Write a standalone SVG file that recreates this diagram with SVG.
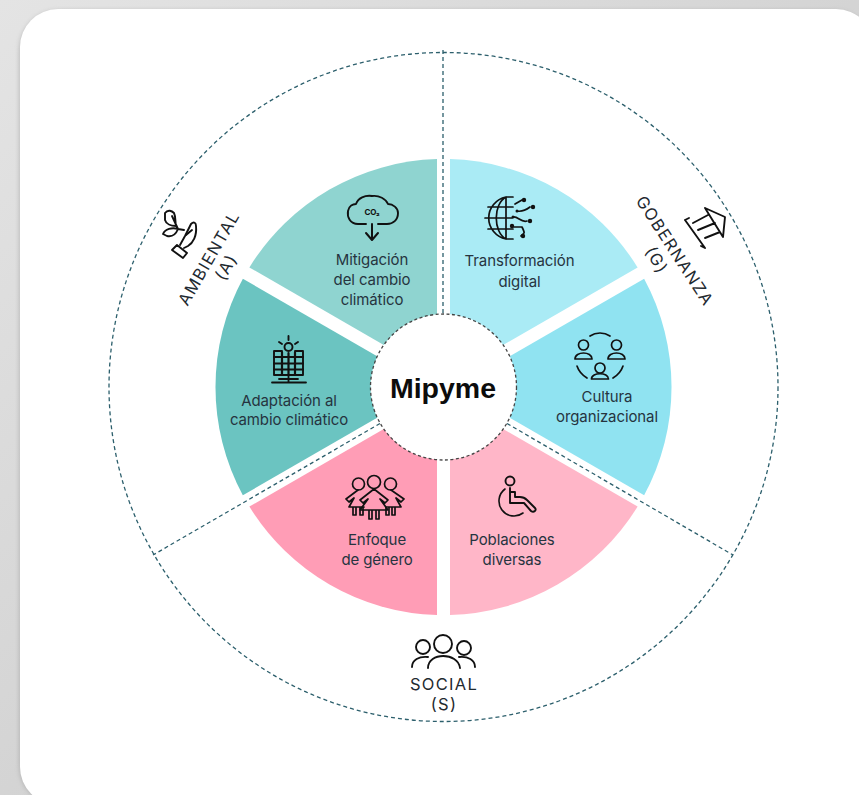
<svg xmlns="http://www.w3.org/2000/svg" width="859" height="795" viewBox="0 0 859 795">
<style>
text{font-family:Inter,"Liberation Sans",Arial,sans-serif;fill:#26343f;font-size:15px;text-anchor:middle;letter-spacing:-.1px}
.lab{font-size:16.5px;letter-spacing:1.3px;fill:#1f2a30}
.ic{fill:none;stroke:#111;stroke-width:1.9;stroke-linecap:round;stroke-linejoin:round}
.ict{fill:none;stroke:#111;stroke-width:1.7;stroke-linecap:round;stroke-linejoin:round}
.dash{fill:none;stroke:#2c5f6c;stroke-width:1.3;stroke-dasharray:4 3}
</style>
<defs>
<linearGradient id="bg" x1="0" y1="0" x2="1" y2="1"><stop offset="0" stop-color="#e4e4e4"/><stop offset="1" stop-color="#c4c4c4"/></linearGradient>
<filter id="sh" x="-5%" y="-5%" width="110%" height="110%"><feGaussianBlur stdDeviation="2"/></filter>
</defs>
<rect width="859" height="795" fill="url(#bg)"/>
<rect x="19" y="10" width="855" height="796" rx="40" fill="#999" opacity=".5" filter="url(#sh)"/>
<rect x="20" y="9" width="854" height="796" rx="38" fill="#fff"/>

<g id="connectors">
<circle class="dash" cx="443.5" cy="387" r="334.5"/>
<path class="dash" d="M443 50V314M380 423.5L153 555M507 423.5L733 555"/>
</g>

<g id="node-mitigacion">
<path d="M437 159.1A228 228 0 0 0 249.4 267.4L437 375.7Z" fill="#8fd4d0"/>
<path class="ic" d="M358 224C350 224 347 217 348 211C349 206 353 204 356 204C358 198 365 195 372 196C379 195 386 199 388 204C393 204 398 208 398 213C398 220 393 224 387 224H378M358 224H366"/>
<path d="M372 224V239M366 233L372 240L378 233" fill="none" stroke="#111" stroke-width="2" stroke-linecap="round" stroke-linejoin="round"/>
<text x="372" y="215" style="font-size:8px;font-weight:700;fill:#111">CO₂</text>
<text x="372" y="265">Mitigación</text><text x="372" y="285">del cambio</text><text x="372" y="305">climático</text>
</g>
<g id="node-adaptacion">
<path d="M242.85 278.7A228 228 0 0 0 242.85 495.3L430.5 387Z" fill="#6bc4c1"/>
<g class="ic">
<circle cx="288.500" cy="347" r="4"/><path d="M288.500 336V340M279 342L282 344M298 342L295 344M282 351H274V375H303V351H295"/>
<path d="M274 357H303M274 363.500H303M274 369.500H303M282 352V375M288.500 353V375M295 352V375" stroke-width="2.200"/>
<path d="M288.500 375V382M272 382.500H306M279 379H298" stroke-width="1.800"/>
</g>
<text x="289" y="406">Adaptación al</text><text x="289" y="425">cambio climático</text>
</g>
<g id="node-transformacion">
<path d="M450 159.1A228 228 0 0 1 637.6 267.4L450 375.7Z" fill="#aaebf5"/>
<g class="ict">
<path d="M513 197H506A22 21.500 0 0 0 506 239H513M506 197C493 204 493 232 506 239M506 197V239M488 207H513M485 218H512M488 229H513"/>
<path d="M515 204L522 200M517 211C522 212 526 210 530 207M513 217C518 216 521 223 527 221M514 227H522C525 233 525 233 521 236"/>
</g>
<g fill="#111"><circle cx="524" cy="200" r="2.200"/><circle cx="533" cy="207" r="2.200"/><circle cx="530" cy="221" r="2.200"/><circle cx="512" cy="226" r="2.200"/><circle cx="523" cy="236" r="2.200"/><circle cx="517" cy="211" r="1.500"/><circle cx="513" cy="217" r="1.500"/></g>
<text x="519.500" y="266">Transformación</text><text x="519.500" y="287">digital</text>
</g>
<g id="node-cultura">
<path d="M644.15 278.7A228 228 0 0 1 644.15 495.3L456.5 387Z" fill="#90e3f1"/>
<g class="ict">
<circle cx="583.500" cy="345" r="5"/><circle cx="616.500" cy="345" r="5"/><circle cx="600" cy="368" r="5"/>
<path d="M590 336C596 332 604 332 610 336M575 359C575 351 592 351 592 359ZM608 359C608 351 625 351 625 359ZM591.500 379C591.500 372 608.500 372 608.500 379ZM577 366C579 372 582 375 587 378M623 366C621 372 618 375 613 378"/>
</g>
<text x="607" y="402">Cultura</text><text x="607" y="422">organizacional</text>
</g>
<g id="node-enfoque">
<path d="M437 615A228 228 0 0 1 249.4 506.600L437 398.300Z" fill="#ff9db6"/>
<g class="ict">
<circle cx="358.500" cy="484" r="6"/><circle cx="374" cy="482" r="6.500"/><circle cx="390.500" cy="484" r="6"/>
<path d="M358 490L346 499L349 502L354 498L349 507H364M353 507V515H356V507M360 507V515H363V507"/>
<path d="M374 489L360 500L363 503L368 499L360 510H388L380 499L385 503L388 500ZM369 510V519H372V510M376 510V519H379V510"/>
<path d="M391 490L404 499L401 502L396 498L401 507H386M386 507V515H389V507M392 507V515H395V507"/>
</g>
<text x="377" y="545">Enfoque</text><text x="377" y="565">de género</text>
</g>
<g id="node-poblaciones">
<path d="M450 615A228 228 0 0 0 637.6 506.600L450 398.300Z" fill="#ffb6c8"/>
<g class="ic">
<circle cx="510" cy="481" r="4.500"/>
<path d="M510 488V503H524L531 511C534 513 537 510 535 508L527 500C525 498 523 497 520 497H515V492H510"/>
<path d="M505 489A15 15 0 1 0 523 513" stroke-width="1.600"/>
</g>
<text x="512" y="545">Poblaciones</text><text x="512" y="565">diversas</text>
</g>

<g id="node-mipyme">
<circle cx="443.500" cy="387" r="73" fill="#fff" stroke="#444" stroke-width="1.300" stroke-dasharray="3 2.500"/>
<text x="443" y="398" style="font-family:'Liberation Sans',Arial,sans-serif;font-size:28.500px;font-weight:700;fill:#0c0c0c;letter-spacing:0">Mipyme</text>
</g>

<g id="node-ambiental">
<g class="ic">
<path d="M172 250L177 245L187 253L183 258Z"/>
<path d="M180 245L185 236L191 224C194 221 196 223 196 226C197 236 193 243 188 246L184 248"/>
<path d="M186 235L192 230M165 213C168 209 172 211 174 213C176 217 175 222 176 226C171 226 166 224 165 220ZM163 234C165 229 172 227 178 229C176 234 172 237 167 236ZM172 216L178 229L184 230"/>
</g>
<text class="lab" transform="translate(214 261) rotate(-60)">AMBIENTAL</text>
<text class="lab" transform="translate(231 270) rotate(-60)">(A)</text>
</g>
<g id="node-gobernanza">
<g class="ic">
<path d="M705 208L725 217L723 237L705 208M685 220L705 248M685 220L689 218M705 248L701 246M693 223L708 215M698 230L715 223M705 238L720 232"/>
</g>
<text class="lab" transform="translate(670 254) rotate(57)">GOBERNANZA</text>
<text class="lab" transform="translate(651.700 263) rotate(60)">(G)</text>
</g>
<g id="node-social">
<g class="ic">
<circle cx="423" cy="647" r="7"/><circle cx="443" cy="644" r="9"/><circle cx="464" cy="648" r="7"/>
<path d="M412 667C412 660 419 656 428 657M475 667C475 660 468 656 459 657M428 668C428 652 458 652 460 668"/>
</g>
<text class="lab" x="444" y="690">SOCIAL</text>
<text class="lab" x="444" y="710">(S)</text>
</g>
</svg>
